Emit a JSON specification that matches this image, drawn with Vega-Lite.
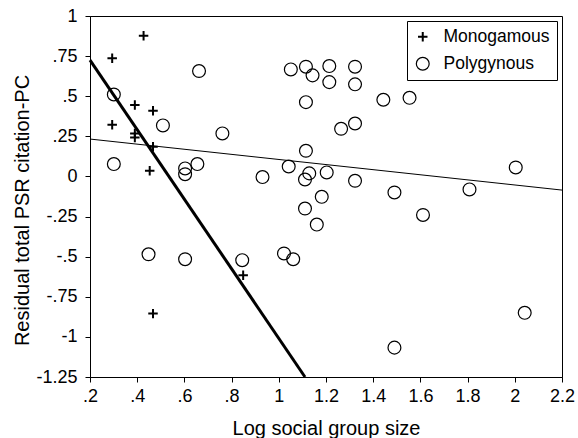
{
  "$schema": "https://vega.github.io/schema/vega-lite/v6.json",
  "width": 472,
  "height": 361,
  "autosize": {"type": "none"},
  "padding": {"left": 90, "top": 16, "right": 16, "bottom": 61},
  "background": "white",
  "datasets": {
    "points": [
      {"x": 0.294, "y": 0.736, "group": "Monogamous"},
      {"x": 0.427, "y": 0.877, "group": "Monogamous"},
      {"x": 0.39, "y": 0.445, "group": "Monogamous"},
      {"x": 0.467, "y": 0.409, "group": "Monogamous"},
      {"x": 0.294, "y": 0.322, "group": "Monogamous"},
      {"x": 0.39, "y": 0.268, "group": "Monogamous"},
      {"x": 0.39, "y": 0.243, "group": "Monogamous"},
      {"x": 0.467, "y": 0.185, "group": "Monogamous"},
      {"x": 0.453, "y": 0.035, "group": "Monogamous"},
      {"x": 0.849, "y": -0.616, "group": "Monogamous"},
      {"x": 0.467, "y": -0.855, "group": "Monogamous"},
      {"x": 0.301, "y": 0.511, "group": "Polygynous"},
      {"x": 0.301, "y": 0.077, "group": "Polygynous"},
      {"x": 0.448, "y": -0.485, "group": "Polygynous"},
      {"x": 0.509, "y": 0.318, "group": "Polygynous"},
      {"x": 0.603, "y": 0.05, "group": "Polygynous"},
      {"x": 0.603, "y": 0.014, "group": "Polygynous"},
      {"x": 0.603, "y": -0.516, "group": "Polygynous"},
      {"x": 0.655, "y": 0.077, "group": "Polygynous"},
      {"x": 0.662, "y": 0.657, "group": "Polygynous"},
      {"x": 0.761, "y": 0.268, "group": "Polygynous"},
      {"x": 0.845, "y": -0.522, "group": "Polygynous"},
      {"x": 0.931, "y": -0.004, "group": "Polygynous"},
      {"x": 1.022, "y": -0.48, "group": "Polygynous"},
      {"x": 1.042, "y": 0.062, "group": "Polygynous"},
      {"x": 1.051, "y": 0.667, "group": "Polygynous"},
      {"x": 1.061, "y": -0.516, "group": "Polygynous"},
      {"x": 1.111, "y": -0.019, "group": "Polygynous"},
      {"x": 1.111, "y": -0.2, "group": "Polygynous"},
      {"x": 1.115, "y": 0.684, "group": "Polygynous"},
      {"x": 1.115, "y": 0.463, "group": "Polygynous"},
      {"x": 1.115, "y": 0.16, "group": "Polygynous"},
      {"x": 1.129, "y": 0.019, "group": "Polygynous"},
      {"x": 1.143, "y": 0.63, "group": "Polygynous"},
      {"x": 1.161, "y": -0.3, "group": "Polygynous"},
      {"x": 1.182, "y": -0.127, "group": "Polygynous"},
      {"x": 1.203, "y": 0.025, "group": "Polygynous"},
      {"x": 1.214, "y": 0.688, "group": "Polygynous"},
      {"x": 1.214, "y": 0.588, "group": "Polygynous"},
      {"x": 1.264, "y": 0.297, "group": "Polygynous"},
      {"x": 1.323, "y": 0.684, "group": "Polygynous"},
      {"x": 1.323, "y": 0.574, "group": "Polygynous"},
      {"x": 1.323, "y": 0.33, "group": "Polygynous"},
      {"x": 1.323, "y": -0.027, "group": "Polygynous"},
      {"x": 1.443, "y": 0.478, "group": "Polygynous"},
      {"x": 1.49, "y": -0.1, "group": "Polygynous"},
      {"x": 1.49, "y": -1.067, "group": "Polygynous"},
      {"x": 1.554, "y": 0.49, "group": "Polygynous"},
      {"x": 1.611, "y": -0.24, "group": "Polygynous"},
      {"x": 1.808, "y": -0.081, "group": "Polygynous"},
      {"x": 2.004, "y": 0.056, "group": "Polygynous"},
      {"x": 2.042, "y": -0.85, "group": "Polygynous"}
    ],
    "lines": [
      {"fit": "Monogamous", "x": 0.2, "y": 0.725},
      {"fit": "Monogamous", "x": 1.111, "y": -1.25},
      {"fit": "Polygynous", "x": 0.2, "y": 0.233},
      {"fit": "Polygynous", "x": 2.2, "y": -0.085}
    ]
  },
  "layer": [
    {
      "data": {"name": "lines"},
      "transform": [{"filter": "datum.fit === 'Polygynous'"}],
      "mark": {"type": "line", "color": "black", "strokeWidth": 1},
      "encoding": {
        "x": {"field": "x", "type": "quantitative"},
        "y": {"field": "y", "type": "quantitative"}
      }
    },
    {
      "data": {"name": "lines"},
      "transform": [{"filter": "datum.fit === 'Monogamous'"}],
      "mark": {"type": "line", "color": "black", "strokeWidth": 3},
      "encoding": {
        "x": {"field": "x", "type": "quantitative"},
        "y": {"field": "y", "type": "quantitative"}
      }
    },
    {
      "data": {"name": "points"},
      "mark": {"type": "point", "filled": false, "color": "black", "opacity": 1},
      "encoding": {
        "x": {
          "field": "x",
          "type": "quantitative",
          "scale": {"domain": [0.2, 2.2], "nice": false, "zero": false},
          "axis": {
            "title": "Log social group size",
            "values": [0.2, 0.4, 0.6, 0.8, 1, 1.2, 1.4, 1.6, 1.8, 2, 2.2],
            "labelExpr": "replace(datum.value + '', '0.', '.')",
            "labelFlush": false,
            "labelPadding": 5,
            "titleY": 57,
            "titleBaseline": "alphabetic"
          }
        },
        "y": {
          "field": "y",
          "type": "quantitative",
          "scale": {"domain": [-1.25, 1], "nice": false, "zero": false},
          "axis": {
            "title": "Residual total PSR citation-PC",
            "values": [-1.25, -1, -0.75, -0.5, -0.25, 0, 0.25, 0.5, 0.75, 1],
            "labelExpr": "replace(datum.value + '', '0.', '.')",
            "labelFlush": false,
            "labelPadding": 8,
            "titleX": -62,
            "titleY": 194,
            "titleAngle": 270,
            "titleAlign": "center",
            "titleBaseline": "alphabetic"
          }
        },
        "shape": {
          "field": "group",
          "type": "nominal",
          "title": null,
          "scale": {"domain": ["Monogamous", "Polygynous"], "range": ["M-1,0L1,0M0,-1L0,1", "circle"]}
        },
        "size": {
          "field": "group",
          "type": "nominal",
          "title": null,
          "scale": {"domain": ["Monogamous", "Polygynous"], "range": [90, 165]}
        },
        "strokeWidth": {
          "field": "group",
          "type": "nominal",
          "title": null,
          "scale": {"domain": ["Monogamous", "Polygynous"], "range": [2, 1.2]}
        }
      }
    }
  ],
  "config": {
    "view": {"stroke": "black", "strokeWidth": 1},
    "axis": {
      "grid": false,
      "domainColor": "black",
      "domainWidth": 1,
      "tickColor": "black",
      "tickSize": 5,
      "tickWidth": 1,
      "labelColor": "black",
      "labelFont": "Liberation Sans",
      "labelFontSize": 18,
      "titleColor": "black",
      "titleFont": "Liberation Sans",
      "titleFontSize": 20,
      "titleFontWeight": "normal"
    },
    "legend": {
      "orient": "top-right",
      "offset": 5,
      "strokeColor": "black",
      "fillColor": "white",
      "padding": 7,
      "rowPadding": 8,
      "labelFont": "Liberation Sans",
      "labelFontSize": 17.5,
      "labelColor": "black",
      "labelOffset": 12,
      "symbolStrokeColor": "black",
      "cornerRadius": 0
    }
  }
}
